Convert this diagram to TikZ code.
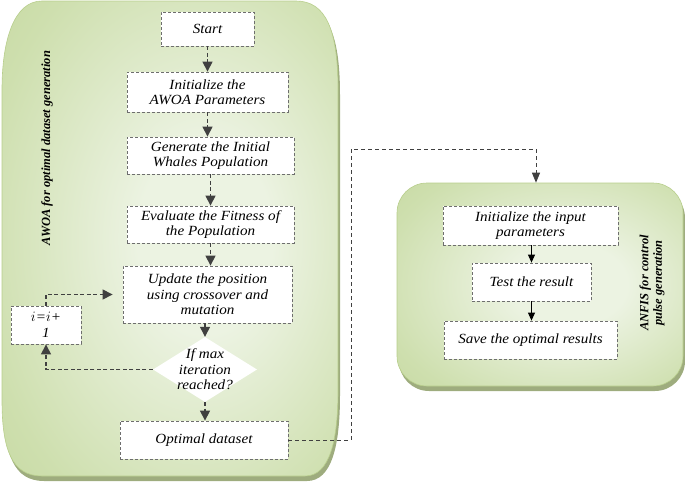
\documentclass[tikz,border=0pt]{standalone}
\usepackage{fontspec}
\setmainfont{Liberation Serif}
\newfontfamily\boxfont{Liberation Serif}[FakeStretch=1.08]
\usetikzlibrary{shapes.geometric,arrows.meta,shadows}
\definecolor{panellight}{RGB}{236,243,226}
\definecolor{panelmid}{RGB}{206,223,174}
\definecolor{paneldark}{RGB}{184,206,140}
\definecolor{shadowgreen}{RGB}{158,172,126}
\definecolor{boxgray}{RGB}{110,110,110}
\definecolor{arrowgray}{RGB}{64,64,64}
\pgfdeclareradialshading{panelshade}{\pgfpoint{6bp}{0bp}}{color(0bp)=(panellight); color(10bp)=(panellight); color(32bp)=(panelmid); color(56bp)=(paneldark); color(76bp)=(paneldark)}
\tikzset{
  box/.style={draw=boxgray, fill=white, dash pattern=on 3pt off 2pt, line width=0.8pt,
    align=center, inner sep=1pt, font=\boxfont\itshape\fontsize{14}{15.5}\selectfont},
  panel/.style={shading=panelshade, draw=paneldark, line width=0.6pt,
    drop shadow={shadow xshift=2pt, shadow yshift=-5pt, fill=shadowgreen, opacity=1}},
  flow/.style={draw=arrowgray, line width=1.2pt, dash pattern=on 4pt off 2.5pt,
    -{Triangle[length=10pt,width=10pt]}},
  solidflow/.style={draw=black, line width=0.9pt, -{Triangle[length=8pt,width=7pt]}},
  link/.style={draw=arrowgray, line width=0.9pt, dash pattern=on 4pt off 3pt,
    -{Triangle[length=10pt,width=8pt]}},
  panellabel/.style={rotate=90, align=center, font=\bfseries\itshape\fontsize{12.5}{13.5}\selectfont}
}
\begin{document}
\begin{tikzpicture}[x=1pt,y=-1pt]
  \useasboundingbox (0,0) rectangle (685,485);
  %Linkes Panel
  \path[panel] (2,90) -- (2,400) .. controls (2,450) and (12,476) .. (42,476)
    -- (305,476) .. controls (330,476) and (338,440) .. (338,390)
    -- (338,90) .. controls (338,30) and (326,1) .. (296,1)
    -- (42,1) .. controls (14,1) and (2,40) .. (2,90) -- cycle;
  \node[panellabel] (awoalabel) at (47,148) {AWOA for optimal dataset generation};
  %Rechtes Panel
  \node[panel, rounded corners=30pt, minimum width=286pt, minimum height=203pt] (anfis) at (540,284.5) {};
  \node[panellabel] (anfislabel) at (652,283) {ANFIS for control\\pulse generation};
  %Schritte links
  \node[box, minimum width=93pt, minimum height=34pt] (start) at (207.5,29) {Start};
  \node[box, minimum width=161pt, minimum height=40pt] (init) at (207.5,92) {Initialize the\\AWOA Parameters};
  \node[box, minimum width=167pt, minimum height=37pt] (gen) at (210.5,155.5) {Generate the Initial\\Whales Population};
  \node[box, minimum width=167pt, minimum height=37pt] (eval) at (210.5,224.5) {Evaluate the Fitness of\\the Population};
  \node[box, minimum width=169pt, minimum height=57pt] (upd) at (207.5,294.5) {Update the position\\using crossover and\\mutation};
  \node[diamond, fill=white, inner sep=0pt, minimum width=104pt, minimum height=65pt] (dec) at (205,369.5) {};
  \node[align=center, font=\boxfont\itshape\fontsize{14}{15.5}\selectfont] (dectext) at (dec) {If max\\iteration\\reached?};
  \node[box, minimum width=70pt, minimum height=38pt] (inc) at (46,325) {$i$=$i$+\\1};
  \node[box, minimum width=168pt, minimum height=38pt] (opt) at (204,440) {Optimal dataset};
  %Schritte rechts
  \node[box, minimum width=175pt, minimum height=39pt] (inp) at (530.5,225.5) {Initialize the input\\parameters};
  \node[box, minimum width=119pt, minimum height=38pt] (test) at (531.5,282) {Test the result};
  \node[box, minimum width=173pt, minimum height=38pt] (save) at (530.5,340) {Save the optimal results};
  %Pfeile links
  \draw[flow] (start.south) -- (start.south |- init.north);
  \draw[flow] (init.south) -- (init.south |- gen.north);
  \draw[flow] (gen.south) -- (gen.south |- eval.north);
  \draw[flow] (eval.south) -- (eval.south |- upd.north);
  \draw[flow] (upd.south -| dec.north) -- (dec.north);
  \draw[flow] (dec.south) -- (dec.south |- opt.north);
  \draw[flow] (dec.west) -| (inc.south);
  \draw[flow, shorten >=10pt] (inc.north) |- (upd.west);
  %Pfeile rechts
  \draw[solidflow] (test.north |- inp.south) -- (test.north);
  \draw[solidflow] (test.south) -- (test.south |- save.north);
  %Verbindung
  \coordinate (bend) at (351,149);
  \draw[link] (opt.east) -| (bend) -| ([xshift=-4pt]anfis.north);
\end{tikzpicture}
\end{document}
